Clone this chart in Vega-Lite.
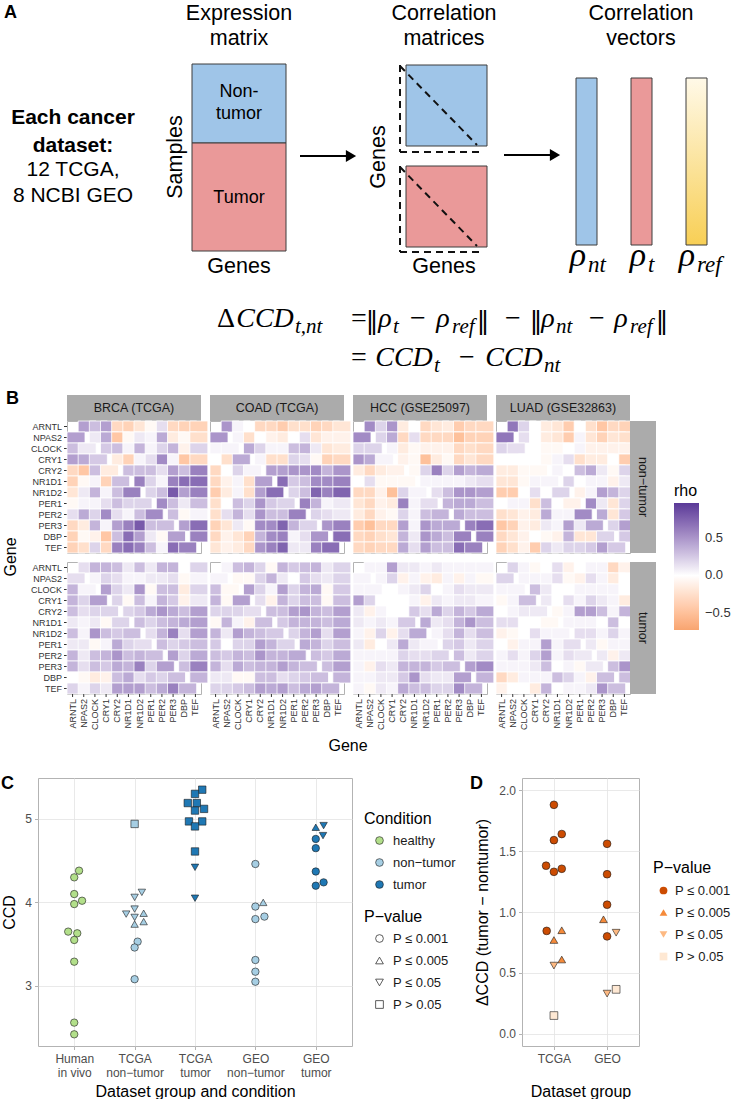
{
"$schema":"https://vega.github.io/schema/vega-lite/v6.json",
"background":"white",
"padding":0,
"columns":1,
"spacing":20,
"resolve":{"scale":{"fill":"independent","shape":"independent"}},
"datasets":{
"genes":[{"g":"ARNTL"},{"g":"NPAS2"},{"g":"CLOCK"},{"g":"CRY1"},{"g":"CRY2"},{"g":"NR1D1"},{"g":"NR1D2"},{"g":"PER1"},{"g":"PER2"},{"g":"PER3"},{"g":"DBP"},{"g":"TEF"}],
"hm":[
{"d":"BRCA","c":"nt","a":"ARNTL","NPAS2":0.45,"CLOCK":0.3,"CRY1":0.45,"CRY2":-0.3,"NR1D1":-0.35,"NR1D2":-0.2,"PER1":-0.05,"PER2":0.15,"PER3":-0.3,"DBP":-0.35,"TEF":-0.35},
{"d":"BRCA","c":"nt","a":"NPAS2","CLOCK":0.1,"CRY1":0.4,"CRY2":-0.45,"NR1D1":-0.05,"NR1D2":0.1,"PER1":0.05,"PER2":0.4,"PER3":-0.15,"DBP":-0.05,"TEF":-0.25},
{"d":"BRCA","c":"nt","a":"CLOCK","CRY1":0.25,"CRY2":0.3,"NR1D1":0.05,"NR1D2":0.35,"PER1":0.05,"PER2":0.2,"PER3":0.35,"DBP":-0.1,"TEF":0.2},
{"d":"BRCA","c":"nt","a":"CRY1","CRY2":-0.15,"NR1D1":-0.35,"NR1D2":0.05,"PER1":0.15,"PER2":0.55,"PER3":0.05,"DBP":-0.45,"TEF":-0.3},
{"d":"BRCA","c":"nt","a":"CRY2","NR1D1":0.3,"NR1D2":0.3,"PER1":0.3,"PER2":0.15,"PER3":0.45,"DBP":0.3,"TEF":0.6},
{"d":"BRCA","c":"nt","a":"NR1D1","NR1D2":0.6,"PER1":0.2,"PER2":0.05,"PER3":0.6,"DBP":0.7,"TEF":0.7},
{"d":"BRCA","c":"nt","a":"NR1D2","PER1":0.2,"PER2":0.3,"PER3":0.8,"DBP":0.45,"TEF":0.6},
{"d":"BRCA","c":"nt","a":"PER1","PER2":0.55,"PER3":0.3,"DBP":0.1,"TEF":0.3},
{"d":"BRCA","c":"nt","a":"PER2","PER3":0.3,"DBP":-0.05,"TEF":0.05},
{"d":"BRCA","c":"nt","a":"PER3","DBP":0.45,"TEF":0.7},
{"d":"BRCA","c":"nt","a":"DBP","TEF":0.6},
{"d":"BRCA","c":"t","a":"ARNTL","NPAS2":0.15,"CLOCK":0.35,"CRY1":0.35,"CRY2":0.3,"NR1D1":0.1,"NR1D2":0.3,"PER1":0.1,"PER2":0.35,"PER3":0.35,"DBP":0.0,"TEF":0.2},
{"d":"BRCA","c":"t","a":"NPAS2","CLOCK":0.05,"CRY1":0.2,"CRY2":0.15,"NR1D1":0.05,"NR1D2":0.05,"PER1":0.1,"PER2":0.1,"PER3":0.15,"DBP":-0.05,"TEF":0.05},
{"d":"BRCA","c":"t","a":"CLOCK","CRY1":0.45,"CRY2":0.2,"NR1D1":0.1,"NR1D2":0.5,"PER1":-0.05,"PER2":0.3,"PER3":0.3,"DBP":-0.15,"TEF":0.2},
{"d":"BRCA","c":"t","a":"CRY1","CRY2":0.2,"NR1D1":-0.05,"NR1D2":0.3,"PER1":0.05,"PER2":0.35,"PER3":0.25,"DBP":-0.1,"TEF":0.1},
{"d":"BRCA","c":"t","a":"CRY2","NR1D1":0.2,"NR1D2":0.25,"PER1":0.4,"PER2":0.5,"PER3":0.4,"DBP":0.3,"TEF":0.45},
{"d":"BRCA","c":"t","a":"NR1D1","NR1D2":0.3,"PER1":0.2,"PER2":0.3,"PER3":0.35,"DBP":0.4,"TEF":0.45},
{"d":"BRCA","c":"t","a":"NR1D2","PER1":0.15,"PER2":0.35,"PER3":0.6,"DBP":0.15,"TEF":0.45},
{"d":"BRCA","c":"t","a":"PER1","PER2":0.3,"PER3":0.2,"DBP":0.25,"TEF":0.3},
{"d":"BRCA","c":"t","a":"PER2","PER3":0.45,"DBP":0.2,"TEF":0.4},
{"d":"BRCA","c":"t","a":"PER3","DBP":0.3,"TEF":0.6},
{"d":"BRCA","c":"t","a":"DBP","TEF":0.35},
{"d":"COAD","c":"nt","a":"ARNTL","NPAS2":0.5,"CLOCK":0.05,"CRY1":0.0,"CRY2":-0.3,"NR1D1":-0.3,"NR1D2":-0.4,"PER1":-0.25,"PER2":-0.25,"PER3":-0.35,"DBP":-0.3,"TEF":-0.2},
{"d":"COAD","c":"nt","a":"NPAS2","CLOCK":0.05,"CRY1":-0.25,"CRY2":0.0,"NR1D1":-0.1,"NR1D2":-0.15,"PER1":0.0,"PER2":0.15,"PER3":-0.2,"DBP":-0.1,"TEF":-0.1},
{"d":"COAD","c":"nt","a":"CLOCK","CRY1":0.4,"CRY2":0.2,"NR1D1":0.05,"NR1D2":0.05,"PER1":0.3,"PER2":0.35,"PER3":0.1,"DBP":-0.2,"TEF":-0.15},
{"d":"COAD","c":"nt","a":"CRY1","CRY2":0.05,"NR1D1":-0.25,"NR1D2":-0.25,"PER1":0.2,"PER2":0.15,"PER3":-0.05,"DBP":-0.35,"TEF":-0.3},
{"d":"COAD","c":"nt","a":"CRY2","NR1D1":0.45,"NR1D2":0.45,"PER1":0.5,"PER2":0.5,"PER3":0.55,"DBP":0.35,"TEF":0.5},
{"d":"COAD","c":"nt","a":"NR1D1","NR1D2":0.7,"PER1":0.25,"PER2":0.3,"PER3":0.55,"DBP":0.55,"TEF":0.6},
{"d":"COAD","c":"nt","a":"NR1D2","PER1":0.2,"PER2":0.3,"PER3":0.75,"DBP":0.6,"TEF":0.75},
{"d":"COAD","c":"nt","a":"PER1","PER2":0.6,"PER3":0.35,"DBP":0.05,"TEF":0.1},
{"d":"COAD","c":"nt","a":"PER2","PER3":0.2,"DBP":0.15,"TEF":0.1},
{"d":"COAD","c":"nt","a":"PER3","DBP":0.5,"TEF":0.6},
{"d":"COAD","c":"nt","a":"DBP","TEF":0.7},
{"d":"COAD","c":"t","a":"ARNTL","NPAS2":0.05,"CLOCK":0.3,"CRY1":0.35,"CRY2":0.2,"NR1D1":-0.05,"NR1D2":0.35,"PER1":0.25,"PER2":0.3,"PER3":0.35,"DBP":0.1,"TEF":0.2},
{"d":"COAD","c":"t","a":"NPAS2","CLOCK":-0.05,"CRY1":-0.05,"CRY2":0.2,"NR1D1":0.35,"NR1D2":0.1,"PER1":0.0,"PER2":0.25,"PER3":0.15,"DBP":0.1,"TEF":0.2},
{"d":"COAD","c":"t","a":"CLOCK","CRY1":0.45,"CRY2":0.2,"NR1D1":0.05,"NR1D2":0.45,"PER1":0.2,"PER2":0.35,"PER3":0.4,"DBP":-0.05,"TEF":0.25},
{"d":"COAD","c":"t","a":"CRY1","CRY2":0.15,"NR1D1":-0.1,"NR1D2":0.35,"PER1":0.2,"PER2":0.3,"PER3":0.3,"DBP":-0.05,"TEF":0.3},
{"d":"COAD","c":"t","a":"CRY2","NR1D1":0.3,"NR1D2":0.3,"PER1":0.45,"PER2":0.5,"PER3":0.35,"DBP":0.3,"TEF":0.45},
{"d":"COAD","c":"t","a":"NR1D1","NR1D2":0.25,"PER1":0.35,"PER2":0.35,"PER3":0.35,"DBP":0.3,"TEF":0.4},
{"d":"COAD","c":"t","a":"NR1D2","PER1":0.2,"PER2":0.35,"PER3":0.45,"DBP":0.15,"TEF":0.45},
{"d":"COAD","c":"t","a":"PER1","PER2":0.4,"PER3":0.35,"DBP":0.2,"TEF":0.3},
{"d":"COAD","c":"t","a":"PER2","PER3":0.3,"DBP":0.25,"TEF":0.4},
{"d":"COAD","c":"t","a":"PER3","DBP":0.3,"TEF":0.45},
{"d":"COAD","c":"t","a":"DBP","TEF":0.35},
{"d":"HCC","c":"nt","a":"ARNTL","NPAS2":0.55,"CLOCK":0.2,"CRY1":0.5,"CRY2":-0.15,"NR1D1":0.0,"NR1D2":-0.3,"PER1":-0.2,"PER2":-0.15,"PER3":-0.4,"DBP":-0.3,"TEF":-0.3},
{"d":"HCC","c":"nt","a":"NPAS2","CLOCK":0.2,"CRY1":0.4,"CRY2":-0.3,"NR1D1":0.15,"NR1D2":-0.3,"PER1":-0.3,"PER2":-0.3,"PER3":-0.5,"DBP":-0.35,"TEF":-0.35},
{"d":"HCC","c":"nt","a":"CLOCK","CRY1":0.05,"CRY2":-0.15,"NR1D1":-0.05,"NR1D2":-0.1,"PER1":-0.1,"PER2":-0.1,"PER3":-0.3,"DBP":-0.25,"TEF":-0.3},
{"d":"HCC","c":"nt","a":"CRY1","CRY2":-0.1,"NR1D1":-0.05,"NR1D2":-0.5,"PER1":-0.15,"PER2":-0.05,"PER3":-0.3,"DBP":-0.2,"TEF":-0.3},
{"d":"HCC","c":"nt","a":"CRY2","NR1D1":-0.05,"NR1D2":0.2,"PER1":0.6,"PER2":0.2,"PER3":0.45,"DBP":0.35,"TEF":0.4},
{"d":"HCC","c":"nt","a":"NR1D1","NR1D2":0.05,"PER1":0.05,"PER2":0.05,"PER3":0.05,"DBP":0.1,"TEF":0.15},
{"d":"HCC","c":"nt","a":"NR1D2","PER1":0.15,"PER2":0.3,"PER3":0.5,"DBP":0.5,"TEF":0.45},
{"d":"HCC","c":"nt","a":"PER1","PER2":0.35,"PER3":0.4,"DBP":0.4,"TEF":0.3},
{"d":"HCC","c":"nt","a":"PER2","PER3":0.4,"DBP":0.3,"TEF":0.3},
{"d":"HCC","c":"nt","a":"PER3","DBP":0.6,"TEF":0.7},
{"d":"HCC","c":"nt","a":"DBP","TEF":0.6},
{"d":"HCC","c":"t","a":"ARNTL","NPAS2":0.05,"CLOCK":0.05,"CRY1":0.45,"CRY2":0.1,"NR1D1":0.1,"NR1D2":0.05,"PER1":0.1,"PER2":0.05,"PER3":0.05,"DBP":0.05,"TEF":0.05},
{"d":"HCC","c":"t","a":"NPAS2","CLOCK":0.05,"CRY1":0.2,"CRY2":-0.1,"NR1D1":0.05,"NR1D2":-0.1,"PER1":-0.15,"PER2":0.05,"PER3":-0.1,"DBP":0.05,"TEF":-0.05},
{"d":"HCC","c":"t","a":"CLOCK","CRY1":0.0,"CRY2":0.05,"NR1D1":0.1,"NR1D2":0.2,"PER1":0.0,"PER2":0.05,"PER3":0.15,"DBP":0.1,"TEF":0.1},
{"d":"HCC","c":"t","a":"CRY1","CRY2":0.0,"NR1D1":0.05,"NR1D2":-0.1,"PER1":0.1,"PER2":0.05,"PER3":0.1,"DBP":0.1,"TEF":0.05},
{"d":"HCC","c":"t","a":"CRY2","NR1D1":0.25,"NR1D2":0.15,"PER1":0.4,"PER2":0.2,"PER3":0.35,"DBP":0.25,"TEF":0.4},
{"d":"HCC","c":"t","a":"NR1D1","NR1D2":0.4,"PER1":0.1,"PER2":0.15,"PER3":0.35,"DBP":0.5,"TEF":0.3},
{"d":"HCC","c":"t","a":"NR1D2","PER1":0.05,"PER2":0.15,"PER3":0.35,"DBP":0.15,"TEF":0.3},
{"d":"HCC","c":"t","a":"PER1","PER2":0.2,"PER3":0.25,"DBP":0.1,"TEF":0.2},
{"d":"HCC","c":"t","a":"PER2","PER3":0.3,"DBP":0.1,"TEF":0.2},
{"d":"HCC","c":"t","a":"PER3","DBP":0.45,"TEF":0.55},
{"d":"HCC","c":"t","a":"DBP","TEF":0.35},
{"d":"LUAD","c":"nt","a":"ARNTL","NPAS2":0.65,"CLOCK":0.2,"CRY1":0.0,"CRY2":-0.15,"NR1D1":-0.2,"NR1D2":-0.4,"PER1":0.0,"PER2":-0.25,"PER3":-0.45,"DBP":-0.3,"TEF":-0.35},
{"d":"LUAD","c":"nt","a":"NPAS2","CLOCK":0.15,"CRY1":0.0,"CRY2":-0.15,"NR1D1":-0.2,"NR1D2":-0.4,"PER1":0.05,"PER2":-0.2,"PER3":-0.35,"DBP":-0.2,"TEF":-0.25},
{"d":"LUAD","c":"nt","a":"CLOCK","CRY1":0.0,"CRY2":-0.05,"NR1D1":-0.05,"NR1D2":0.0,"PER1":0.05,"PER2":-0.1,"PER3":-0.1,"DBP":-0.1,"TEF":-0.1},
{"d":"LUAD","c":"nt","a":"CRY1","CRY2":-0.05,"NR1D1":0.05,"NR1D2":0.15,"PER1":-0.25,"PER2":-0.15,"PER3":-0.15,"DBP":0.0,"TEF":-0.4},
{"d":"LUAD","c":"nt","a":"CRY2","NR1D1":0.05,"NR1D2":0.0,"PER1":0.3,"PER2":0.4,"PER3":0.1,"DBP":-0.05,"TEF":0.2},
{"d":"LUAD","c":"nt","a":"NR1D1","NR1D2":0.2,"PER1":0.0,"PER2":0.05,"PER3":0.05,"DBP":-0.1,"TEF":0.1},
{"d":"LUAD","c":"nt","a":"NR1D2","PER1":-0.1,"PER2":0.05,"PER3":0.45,"DBP":0.35,"TEF":0.2},
{"d":"LUAD","c":"nt","a":"PER1","PER2":0.55,"PER3":0.1,"DBP":-0.2,"TEF":0.2},
{"d":"LUAD","c":"nt","a":"PER2","PER3":0.4,"DBP":-0.2,"TEF":0.25},
{"d":"LUAD","c":"nt","a":"PER3","DBP":0.2,"TEF":0.45},
{"d":"LUAD","c":"nt","a":"DBP","TEF":0.25},
{"d":"LUAD","c":"t","a":"ARNTL","NPAS2":0.2,"CLOCK":0.05,"CRY1":-0.05,"CRY2":0.0,"NR1D1":0.15,"NR1D2":-0.1,"PER1":0.0,"PER2":0.05,"PER3":0.05,"DBP":-0.3,"TEF":-0.1},
{"d":"LUAD","c":"t","a":"NPAS2","CLOCK":0.05,"CRY1":0.05,"CRY2":0.05,"NR1D1":0.15,"NR1D2":-0.05,"PER1":-0.1,"PER2":0.15,"PER3":0.05,"DBP":-0.15,"TEF":0.0},
{"d":"LUAD","c":"t","a":"CLOCK","CRY1":0.3,"CRY2":0.1,"NR1D1":0.0,"NR1D2":0.0,"PER1":0.05,"PER2":0.05,"PER3":0.05,"DBP":0.05,"TEF":0.0},
{"d":"LUAD","c":"t","a":"CRY1","CRY2":0.1,"NR1D1":0.0,"NR1D2":0.15,"PER1":0.05,"PER2":0.2,"PER3":0.1,"DBP":0.05,"TEF":-0.15},
{"d":"LUAD","c":"t","a":"CRY2","NR1D1":-0.05,"NR1D2":0.05,"PER1":0.45,"PER2":0.45,"PER3":0.3,"DBP":0.05,"TEF":0.35},
{"d":"LUAD","c":"t","a":"NR1D1","NR1D2":0.05,"PER1":0.05,"PER2":0.05,"PER3":0.0,"DBP":0.3,"TEF":0.0},
{"d":"LUAD","c":"t","a":"NR1D2","PER1":0.15,"PER2":0.15,"PER3":0.05,"DBP":0.2,"TEF":0.05},
{"d":"LUAD","c":"t","a":"PER1","PER2":0.1,"PER3":-0.05,"DBP":0.05,"TEF":0.05},
{"d":"LUAD","c":"t","a":"PER2","PER3":0.1,"DBP":-0.1,"TEF":0.1},
{"d":"LUAD","c":"t","a":"PER3","DBP":0.3,"TEF":0.5},
{"d":"LUAD","c":"t","a":"DBP","TEF":0.3}
],
"ccd":[
{"g":"Human|in vivo","cond":"healthy","p":"P ≤ 0.001","v":4.38,"j":0.08},
{"g":"Human|in vivo","cond":"healthy","p":"P ≤ 0.001","v":4.30,"j":0},
{"g":"Human|in vivo","cond":"healthy","p":"P ≤ 0.001","v":4.10,"j":0},
{"g":"Human|in vivo","cond":"healthy","p":"P ≤ 0.001","v":3.98,"j":0},
{"g":"Human|in vivo","cond":"healthy","p":"P ≤ 0.001","v":4.02,"j":0.13},
{"g":"Human|in vivo","cond":"healthy","p":"P ≤ 0.001","v":3.65,"j":-0.1},
{"g":"Human|in vivo","cond":"healthy","p":"P ≤ 0.001","v":3.63,"j":0.05},
{"g":"Human|in vivo","cond":"healthy","p":"P ≤ 0.001","v":3.55,"j":0},
{"g":"Human|in vivo","cond":"healthy","p":"P ≤ 0.001","v":3.29,"j":0},
{"g":"Human|in vivo","cond":"healthy","p":"P ≤ 0.001","v":2.56,"j":0},
{"g":"Human|in vivo","cond":"healthy","p":"P ≤ 0.001","v":2.42,"j":0},
{"g":"TCGA|non−tumor","cond":"non−tumor","p":"P > 0.05","v":4.94,"j":0},
{"g":"TCGA|non−tumor","cond":"non−tumor","p":"P ≤ 0.05","v":4.12,"j":0.12},
{"g":"TCGA|non−tumor","cond":"non−tumor","p":"P ≤ 0.05","v":4.06,"j":0},
{"g":"TCGA|non−tumor","cond":"non−tumor","p":"P ≤ 0.05","v":3.92,"j":0},
{"g":"TCGA|non−tumor","cond":"non−tumor","p":"P ≤ 0.05","v":3.86,"j":-0.14},
{"g":"TCGA|non−tumor","cond":"non−tumor","p":"P ≤ 0.005","v":3.87,"j":0.15},
{"g":"TCGA|non−tumor","cond":"non−tumor","p":"P ≤ 0.05","v":3.82,"j":0},
{"g":"TCGA|non−tumor","cond":"non−tumor","p":"P ≤ 0.005","v":3.77,"j":0.15},
{"g":"TCGA|non−tumor","cond":"non−tumor","p":"P ≤ 0.005","v":3.74,"j":0},
{"g":"TCGA|non−tumor","cond":"non−tumor","p":"P ≤ 0.001","v":3.53,"j":0.05},
{"g":"TCGA|non−tumor","cond":"non−tumor","p":"P ≤ 0.001","v":3.46,"j":0},
{"g":"TCGA|non−tumor","cond":"non−tumor","p":"P ≤ 0.001","v":3.08,"j":0},
{"g":"TCGA|tumor","cond":"tumor","p":"P > 0.05","v":5.35,"j":0.12},
{"g":"TCGA|tumor","cond":"tumor","p":"P > 0.05","v":5.30,"j":0},
{"g":"TCGA|tumor","cond":"tumor","p":"P > 0.05","v":5.19,"j":-0.12},
{"g":"TCGA|tumor","cond":"tumor","p":"P > 0.05","v":5.19,"j":0.03},
{"g":"TCGA|tumor","cond":"tumor","p":"P > 0.05","v":5.12,"j":0.15},
{"g":"TCGA|tumor","cond":"tumor","p":"P > 0.05","v":5.10,"j":0},
{"g":"TCGA|tumor","cond":"tumor","p":"P > 0.05","v":4.97,"j":-0.1},
{"g":"TCGA|tumor","cond":"tumor","p":"P > 0.05","v":4.97,"j":0.12},
{"g":"TCGA|tumor","cond":"tumor","p":"P > 0.05","v":4.91,"j":0},
{"g":"TCGA|tumor","cond":"tumor","p":"P > 0.05","v":4.61,"j":0},
{"g":"TCGA|tumor","cond":"tumor","p":"P ≤ 0.05","v":4.42,"j":0},
{"g":"TCGA|tumor","cond":"tumor","p":"P ≤ 0.05","v":4.05,"j":0},
{"g":"GEO|non−tumor","cond":"non−tumor","p":"P ≤ 0.001","v":4.46,"j":0},
{"g":"GEO|non−tumor","cond":"non−tumor","p":"P ≤ 0.005","v":4.00,"j":0.13},
{"g":"GEO|non−tumor","cond":"non−tumor","p":"P ≤ 0.001","v":3.95,"j":0},
{"g":"GEO|non−tumor","cond":"non−tumor","p":"P ≤ 0.001","v":3.83,"j":0.15},
{"g":"GEO|non−tumor","cond":"non−tumor","p":"P ≤ 0.001","v":3.80,"j":0},
{"g":"GEO|non−tumor","cond":"non−tumor","p":"P ≤ 0.001","v":3.31,"j":0},
{"g":"GEO|non−tumor","cond":"non−tumor","p":"P ≤ 0.001","v":3.17,"j":0},
{"g":"GEO|non−tumor","cond":"non−tumor","p":"P ≤ 0.001","v":3.05,"j":0},
{"g":"GEO|tumor","cond":"tumor","p":"P ≤ 0.005","v":4.90,"j":0},
{"g":"GEO|tumor","cond":"tumor","p":"P ≤ 0.05","v":4.92,"j":0.13},
{"g":"GEO|tumor","cond":"tumor","p":"P ≤ 0.05","v":4.80,"j":0.12},
{"g":"GEO|tumor","cond":"tumor","p":"P ≤ 0.001","v":4.76,"j":0},
{"g":"GEO|tumor","cond":"tumor","p":"P ≤ 0.001","v":4.65,"j":0},
{"g":"GEO|tumor","cond":"tumor","p":"P ≤ 0.001","v":4.37,"j":0},
{"g":"GEO|tumor","cond":"tumor","p":"P ≤ 0.001","v":4.20,"j":0},
{"g":"GEO|tumor","cond":"tumor","p":"P ≤ 0.001","v":4.24,"j":0.13}
],
"dccd":[
{"g":"TCGA","p":"P ≤ 0.001","v":1.88,"j":0},
{"g":"TCGA","p":"P ≤ 0.001","v":1.64,"j":0.13},
{"g":"TCGA","p":"P ≤ 0.001","v":1.59,"j":0},
{"g":"TCGA","p":"P ≤ 0.001","v":1.38,"j":-0.13},
{"g":"TCGA","p":"P ≤ 0.001","v":1.355,"j":0.13},
{"g":"TCGA","p":"P ≤ 0.001","v":1.33,"j":0},
{"g":"TCGA","p":"P ≤ 0.001","v":0.845,"j":-0.12},
{"g":"TCGA","p":"P ≤ 0.005","v":0.85,"j":0.13},
{"g":"TCGA","p":"P ≤ 0.005","v":0.77,"j":0},
{"g":"TCGA","p":"P ≤ 0.005","v":0.61,"j":0.13},
{"g":"TCGA","p":"P ≤ 0.05","v":0.56,"j":0},
{"g":"TCGA","p":"P > 0.05","v":0.15,"j":0},
{"g":"GEO","p":"P ≤ 0.001","v":1.56,"j":0},
{"g":"GEO","p":"P ≤ 0.001","v":1.31,"j":0},
{"g":"GEO","p":"P ≤ 0.001","v":1.06,"j":0},
{"g":"GEO","p":"P ≤ 0.005","v":0.94,"j":-0.06},
{"g":"GEO","p":"P ≤ 0.05","v":0.83,"j":0.15},
{"g":"GEO","p":"P ≤ 0.001","v":0.80,"j":0},
{"g":"GEO","p":"P ≤ 0.05","v":0.33,"j":0},
{"g":"GEO","p":"P > 0.05","v":0.365,"j":0.15}
]
},
"concat":[
{"columns":1,"spacing":0,"resolve":{"scale":{"fill":"independent"}},"concat":[
{
"width":695,"height":390,"view":{"stroke":null},
"encoding":{
"x":{"field":"x","type":"quantitative","scale":{"domain":[37,732],"nice":false,"zero":false},"axis":null},
"y":{"field":"y","type":"quantitative","scale":{"domain":[0,390],"nice":false,"zero":false,"reverse":true},"axis":null}
},
"layer":[
{"data":{"values":[{"x":191,"x2":285,"y":64,"y2":143,"k":"nt"},{"x":191,"x2":285,"y":143,"y2":251,"k":"t"},{"x":405,"x2":486,"y":65,"y2":146,"k":"nt"},{"x":405,"x2":486,"y":166,"y2":247,"k":"t"},{"x":575,"x2":596,"y":78,"y2":245,"k":"nt"},{"x":630,"x2":651,"y":78,"y2":245,"k":"t"}]},
"mark":{"type":"rect","stroke":"#3C3C3C","strokeWidth":1},
"encoding":{"x2":{"field":"x2"},"y2":{"field":"y2"},"fill":{"field":"k","type":"nominal","scale":{"domain":["nt","t"],"range":["#9FC5E8","#EA9999"]},"legend":null}}},
{"data":{"values":[{"x":685,"x2":706,"y":78,"y2":245}]},
"mark":{"type":"rect","stroke":"#3C3C3C","strokeWidth":1,"fill":{"gradient":"linear","x1":0,"y1":0,"x2":0,"y2":1,"stops":[{"offset":0,"color":"#FFF9E8"},{"offset":1,"color":"#F8CF55"}]}},
"encoding":{"x2":{"field":"x2"},"y2":{"field":"y2"}}},
{"data":{"values":[{"x":399,"y":65,"x2":399,"y2":152},{"x":399,"y":152,"x2":483,"y2":152},{"x":399,"y":66,"x2":476,"y2":145},{"x":399,"y":166,"x2":399,"y2":252},{"x":399,"y":252,"x2":483,"y2":252},{"x":399,"y":167,"x2":476,"y2":246}]},
"mark":{"type":"rule","strokeDash":[7,5],"strokeWidth":2,"color":"#111111"},
"encoding":{"x2":{"field":"x2"},"y2":{"field":"y2"}}},
{"data":{"values":[{"x":299,"y":156,"x2":347,"y2":156},{"x":503,"y":155,"x2":551,"y2":155}]},
"mark":{"type":"rule","strokeWidth":2,"color":"#000000"},
"encoding":{"x2":{"field":"x2"},"y2":{"field":"y2"}}},
{"data":{"values":[{"x":350,"y":156},{"x":554,"y":155}]},
"mark":{"type":"point","shape":"triangle-right","filled":true,"color":"#000000","size":140,"opacity":1}},
{"data":{"values":[{"t":"Expression","x":238,"y":14},{"t":"matrix","x":238,"y":39},{"t":"Correlation","x":443,"y":14},{"t":"matrices","x":443,"y":39},{"t":"Correlation","x":640,"y":14},{"t":"vectors","x":640,"y":39},{"t":"Genes","x":238,"y":267},{"t":"Genes","x":443,"y":267}]},
"mark":{"type":"text","fontSize":21.5,"baseline":"middle","align":"center","color":"#000000"},
"encoding":{"text":{"field":"t"}}},
{"data":{"values":[{"t":"Non-","x":238,"y":92},{"t":"tumor","x":238,"y":114},{"t":"Tumor","x":238,"y":198}]},
"mark":{"type":"text","fontSize":18,"baseline":"middle","align":"center","color":"#000000"},
"encoding":{"text":{"field":"t"}}},
{"data":{"values":[{"t":"Samples","x":175,"y":157},{"t":"Genes","x":378,"y":157}]},
"mark":{"type":"text","fontSize":21.5,"baseline":"middle","align":"center","angle":270,"color":"#000000"},
"encoding":{"text":{"field":"t"}}},
{"data":{"values":[{"t":"Each cancer","x":72,"y":118},{"t":"dataset:","x":72,"y":146}]},
"mark":{"type":"text","fontSize":21,"fontWeight":"bold","baseline":"middle","align":"center","color":"#000000"},
"encoding":{"text":{"field":"t"}}},
{"data":{"values":[{"t":"12 TCGA,","x":72,"y":170},{"t":"8 NCBI GEO","x":72,"y":196}]},
"mark":{"type":"text","fontSize":21,"baseline":"middle","align":"center","color":"#000000"},
"encoding":{"text":{"field":"t"}}},
{"data":{"values":[{"t":"A","x":3,"y":13}]},
"mark":{"type":"text","fontSize":18,"fontWeight":"bold","baseline":"middle","align":"left","color":"#000000"},
"encoding":{"text":{"field":"t"}}},
{"data":{"values":[{"t":"ρ","x":577,"y":266},{"t":"ρ","x":637,"y":266},{"t":"ρ","x":686,"y":266}]},
"mark":{"type":"text","font":"Liberation Serif","fontStyle":"italic","fontSize":34,"baseline":"alphabetic","align":"center","color":"#000000"},
"encoding":{"text":{"field":"t"}}},
{"data":{"values":[{"t":"nt","x":587,"y":272},{"t":"t","x":647,"y":272},{"t":"ref","x":696,"y":272}]},
"mark":{"type":"text","font":"Liberation Serif","fontStyle":"italic","fontSize":23,"baseline":"alphabetic","align":"left","color":"#000000"},
"encoding":{"text":{"field":"t"}}},
{"data":{"values":[{"t":"CCD","x":264,"y":327},{"t":"ρ","x":384,"y":327},{"t":"ρ","x":442,"y":327},{"t":"ρ","x":547,"y":327},{"t":"ρ","x":620,"y":327},{"t":"CCD","x":403,"y":366},{"t":"CCD","x":513,"y":366}]},
"mark":{"type":"text","font":"Liberation Serif","fontStyle":"italic","fontSize":28,"baseline":"alphabetic","align":"center","color":"#000000"},
"encoding":{"text":{"field":"t"}}},
{"data":{"values":[{"t":"t,nt","x":294,"y":333},{"t":"t","x":392,"y":333},{"t":"ref","x":451,"y":333},{"t":"nt","x":555,"y":333},{"t":"ref","x":629,"y":333},{"t":"t","x":433,"y":372},{"t":"nt","x":543,"y":372}]},
"mark":{"type":"text","font":"Liberation Serif","fontStyle":"italic","fontSize":21,"baseline":"alphabetic","align":"left","color":"#000000"},
"encoding":{"text":{"field":"t"}}},
{"data":{"values":[{"t":"Δ","x":225,"y":327},{"t":"=","x":358,"y":327},{"t":"−","x":417,"y":327},{"t":"−","x":512,"y":327},{"t":"−","x":596,"y":327},{"t":"=","x":358,"y":366},{"t":"−","x":466,"y":366}]},
"mark":{"type":"text","font":"Liberation Serif","fontSize":28,"baseline":"alphabetic","align":"center","color":"#000000"},
"encoding":{"text":{"field":"t"}}},
{"data":{"values":[{"t":"‖","x":371,"y":329},{"t":"‖","x":482,"y":329},{"t":"‖","x":535,"y":329},{"t":"‖","x":661,"y":329}]},
"mark":{"type":"text","font":"DejaVu Sans","fontSize":25,"baseline":"alphabetic","align":"center","color":"#000000"},
"encoding":{"text":{"field":"t"}}}
]
},
{"concat":[
{"width":20,"height":17,"view":{"stroke":null},"title":{"text":"B","anchor":"start","frame":"group","fontSize":18,"fontWeight":"bold","offset":-13,"dx":-32,"color":"#000000"},"data":{"values":[{"z":0}]},"mark":{"type":"point","opacity":0},"encoding":{}},
{"width":134,"height":17,"view":{"stroke":null},"data":{"values":[{"s":"BRCA (TCGA)"}]},"layer":[
{"mark":{"type":"rect","fill":"#ABABAB"},"encoding":{"x":{"datum":0,"type":"quantitative","scale":{"domain":[0,1],"nice":false,"zero":false},"axis":null},"x2":{"datum":1},"y":{"datum":1,"type":"quantitative","scale":{"domain":[0,1],"nice":false,"zero":false},"axis":null},"y2":{"datum":-0.5294}}},
{"mark":{"type":"text","fontSize":12.5,"color":"#1A1A1A"},"encoding":{"x":{"datum":0.5,"type":"quantitative","scale":{"domain":[0,1],"nice":false,"zero":false},"axis":null},"y":{"datum":0.235,"type":"quantitative","scale":{"domain":[0,1],"nice":false,"zero":false},"axis":null},"text":{"field":"s"}}}]},
{"width":134,"height":17,"view":{"stroke":null},"data":{"values":[{"s":"COAD (TCGA)"}]},"layer":[
{"mark":{"type":"rect","fill":"#ABABAB"},"encoding":{"x":{"datum":0,"type":"quantitative","scale":{"domain":[0,1],"nice":false,"zero":false},"axis":null},"x2":{"datum":1},"y":{"datum":1,"type":"quantitative","scale":{"domain":[0,1],"nice":false,"zero":false},"axis":null},"y2":{"datum":-0.5294}}},
{"mark":{"type":"text","fontSize":12.5,"color":"#1A1A1A"},"encoding":{"x":{"datum":0.5,"type":"quantitative","scale":{"domain":[0,1],"nice":false,"zero":false},"axis":null},"y":{"datum":0.235,"type":"quantitative","scale":{"domain":[0,1],"nice":false,"zero":false},"axis":null},"text":{"field":"s"}}}]},
{"width":134,"height":17,"view":{"stroke":null},"data":{"values":[{"s":"HCC (GSE25097)"}]},"layer":[
{"mark":{"type":"rect","fill":"#ABABAB"},"encoding":{"x":{"datum":0,"type":"quantitative","scale":{"domain":[0,1],"nice":false,"zero":false},"axis":null},"x2":{"datum":1},"y":{"datum":1,"type":"quantitative","scale":{"domain":[0,1],"nice":false,"zero":false},"axis":null},"y2":{"datum":-0.5294}}},
{"mark":{"type":"text","fontSize":12.5,"color":"#1A1A1A"},"encoding":{"x":{"datum":0.5,"type":"quantitative","scale":{"domain":[0,1],"nice":false,"zero":false},"axis":null},"y":{"datum":0.235,"type":"quantitative","scale":{"domain":[0,1],"nice":false,"zero":false},"axis":null},"text":{"field":"s"}}}]},
{"width":134,"height":17,"view":{"stroke":null},"data":{"values":[{"s":"LUAD (GSE32863)"}]},"layer":[
{"mark":{"type":"rect","fill":"#ABABAB"},"encoding":{"x":{"datum":0,"type":"quantitative","scale":{"domain":[0,1],"nice":false,"zero":false},"axis":null},"x2":{"datum":1},"y":{"datum":1,"type":"quantitative","scale":{"domain":[0,1],"nice":false,"zero":false},"axis":null},"y2":{"datum":-0.5294}}},
{"mark":{"type":"text","fontSize":12.5,"color":"#1A1A1A"},"encoding":{"x":{"datum":0.5,"type":"quantitative","scale":{"domain":[0,1],"nice":false,"zero":false},"axis":null},"y":{"datum":0.235,"type":"quantitative","scale":{"domain":[0,1],"nice":false,"zero":false},"axis":null},"text":{"field":"s"}}}]},
{"width":17,"height":17,"view":{"stroke":null},"data":{"values":[{"z":0}]},"mark":{"type":"point","opacity":0},"encoding":{}},
{"width":20,"height":132,"view":{"stroke":null},"resolve":{"scale":{"x":"independent","y":"independent"}},"layer":[
{"data":{"name":"genes"},"encoding":{"y":{"field":"g","type":"nominal","scale":{"domain":["ARNTL","NPAS2","CLOCK","CRY1","CRY2","NR1D1","NR1D2","PER1","PER2","PER3","DBP","TEF"],"padding":0},"axis":null}},"layer":[
{"mark":{"type":"text","align":"right","baseline":"middle","fontSize":9,"color":"#333333"},"encoding":{"x":{"datum":24,"type":"quantitative","scale":{"domain":[0,20],"range":[0,20],"nice":false,"zero":false},"axis":null},"text":{"field":"g"}}},
{"mark":{"type":"rule","color":"#333333","strokeWidth":1},"encoding":{"x":{"datum":26,"type":"quantitative","scale":{"domain":[0,20],"range":[0,20],"nice":false,"zero":false},"axis":null},"x2":{"datum":29}}}]},
{"data":{"values":[{"t":"Gene"}]},"mark":{"type":"text","angle":270,"fontSize":16,"baseline":"middle","color":"#000000"},"encoding":{"x":{"datum":-27.5,"type":"quantitative","scale":{"domain":[0,20],"range":[0,20],"nice":false,"zero":false},"axis":null},"y":{"datum":136,"type":"quantitative","scale":{"domain":[0,132],"range":[0,132],"nice":false,"zero":false},"axis":null},"text":{"field":"t"}}}
]},
{"width":134,"height":132,"data":{"name":"hm"},"transform":[{"filter":"datum.d=='BRCA'&&datum.c=='nt'"},{"fold":["ARNTL","NPAS2","CLOCK","CRY1","CRY2","NR1D1","NR1D2","PER1","PER2","PER3","DBP","TEF"],"as":["b","v"]},{"filter":"isValid(datum.v)"}],
"layer":[
{"mark":{"type":"rect","stroke":"white","strokeWidth":0.8},"encoding":{
"x":{"field":"b","type":"nominal","scale":{"domain":["ARNTL","NPAS2","CLOCK","CRY1","CRY2","NR1D1","NR1D2","PER1","PER2","PER3","DBP","TEF"],"padding":0},"axis":{"labels":false,"ticks":false,"domain":false,"grid":true,"gridColor":"#D9D9D9","gridWidth":0.6,"title":null}},
"y":{"field":"a","type":"nominal","scale":{"domain":["ARNTL","NPAS2","CLOCK","CRY1","CRY2","NR1D1","NR1D2","PER1","PER2","PER3","DBP","TEF"],"padding":0},"axis":{"labels":false,"ticks":false,"domain":false,"grid":true,"gridColor":"#D9D9D9","gridWidth":0.6,"title":null}},
"fill":{"field":"v","type":"quantitative","scale":{"domain":[-0.73,0,0.97],"range":["#F8A46F","#FFFFFF","#5A3A98"],"interpolate":"lab"},"legend":null}}},
{"mark":{"type":"rect","stroke":"white","strokeWidth":0.8},"encoding":{
"x":{"field":"a","type":"nominal","axis":null},
"y":{"field":"b","type":"nominal","axis":null},
"fill":{"field":"v","type":"quantitative","legend":null}}}
]},
{"width":134,"height":132,"data":{"name":"hm"},"transform":[{"filter":"datum.d=='COAD'&&datum.c=='nt'"},{"fold":["ARNTL","NPAS2","CLOCK","CRY1","CRY2","NR1D1","NR1D2","PER1","PER2","PER3","DBP","TEF"],"as":["b","v"]},{"filter":"isValid(datum.v)"}],
"layer":[
{"mark":{"type":"rect","stroke":"white","strokeWidth":0.8},"encoding":{
"x":{"field":"b","type":"nominal","scale":{"domain":["ARNTL","NPAS2","CLOCK","CRY1","CRY2","NR1D1","NR1D2","PER1","PER2","PER3","DBP","TEF"],"padding":0},"axis":{"labels":false,"ticks":false,"domain":false,"grid":true,"gridColor":"#D9D9D9","gridWidth":0.6,"title":null}},
"y":{"field":"a","type":"nominal","scale":{"domain":["ARNTL","NPAS2","CLOCK","CRY1","CRY2","NR1D1","NR1D2","PER1","PER2","PER3","DBP","TEF"],"padding":0},"axis":{"labels":false,"ticks":false,"domain":false,"grid":true,"gridColor":"#D9D9D9","gridWidth":0.6,"title":null}},
"fill":{"field":"v","type":"quantitative","scale":{"domain":[-0.73,0,0.97],"range":["#F8A46F","#FFFFFF","#5A3A98"],"interpolate":"lab"},"legend":null}}},
{"mark":{"type":"rect","stroke":"white","strokeWidth":0.8},"encoding":{
"x":{"field":"a","type":"nominal","axis":null},
"y":{"field":"b","type":"nominal","axis":null},
"fill":{"field":"v","type":"quantitative","legend":null}}}
]},
{"width":134,"height":132,"data":{"name":"hm"},"transform":[{"filter":"datum.d=='HCC'&&datum.c=='nt'"},{"fold":["ARNTL","NPAS2","CLOCK","CRY1","CRY2","NR1D1","NR1D2","PER1","PER2","PER3","DBP","TEF"],"as":["b","v"]},{"filter":"isValid(datum.v)"}],
"layer":[
{"mark":{"type":"rect","stroke":"white","strokeWidth":0.8},"encoding":{
"x":{"field":"b","type":"nominal","scale":{"domain":["ARNTL","NPAS2","CLOCK","CRY1","CRY2","NR1D1","NR1D2","PER1","PER2","PER3","DBP","TEF"],"padding":0},"axis":{"labels":false,"ticks":false,"domain":false,"grid":true,"gridColor":"#D9D9D9","gridWidth":0.6,"title":null}},
"y":{"field":"a","type":"nominal","scale":{"domain":["ARNTL","NPAS2","CLOCK","CRY1","CRY2","NR1D1","NR1D2","PER1","PER2","PER3","DBP","TEF"],"padding":0},"axis":{"labels":false,"ticks":false,"domain":false,"grid":true,"gridColor":"#D9D9D9","gridWidth":0.6,"title":null}},
"fill":{"field":"v","type":"quantitative","scale":{"domain":[-0.73,0,0.97],"range":["#F8A46F","#FFFFFF","#5A3A98"],"interpolate":"lab"},"legend":null}}},
{"mark":{"type":"rect","stroke":"white","strokeWidth":0.8},"encoding":{
"x":{"field":"a","type":"nominal","axis":null},
"y":{"field":"b","type":"nominal","axis":null},
"fill":{"field":"v","type":"quantitative","legend":null}}}
]},
{"width":134,"height":132,"data":{"name":"hm"},"transform":[{"filter":"datum.d=='LUAD'&&datum.c=='nt'"},{"fold":["ARNTL","NPAS2","CLOCK","CRY1","CRY2","NR1D1","NR1D2","PER1","PER2","PER3","DBP","TEF"],"as":["b","v"]},{"filter":"isValid(datum.v)"}],
"layer":[
{"mark":{"type":"rect","stroke":"white","strokeWidth":0.8},"encoding":{
"x":{"field":"b","type":"nominal","scale":{"domain":["ARNTL","NPAS2","CLOCK","CRY1","CRY2","NR1D1","NR1D2","PER1","PER2","PER3","DBP","TEF"],"padding":0},"axis":{"labels":false,"ticks":false,"domain":false,"grid":true,"gridColor":"#D9D9D9","gridWidth":0.6,"title":null}},
"y":{"field":"a","type":"nominal","scale":{"domain":["ARNTL","NPAS2","CLOCK","CRY1","CRY2","NR1D1","NR1D2","PER1","PER2","PER3","DBP","TEF"],"padding":0},"axis":{"labels":false,"ticks":false,"domain":false,"grid":true,"gridColor":"#D9D9D9","gridWidth":0.6,"title":null}},
"fill":{"field":"v","type":"quantitative","scale":{"domain":[-0.73,0,0.97],"range":["#F8A46F","#FFFFFF","#5A3A98"],"interpolate":"lab"},"legend":{"orient":"none","legendX":178,"legendY":62,"title":"rho","values":[-0.5,0,0.5],"format":".1f","gradientLength":127,"gradientThickness":25,"titleFontSize":16,"labelFontSize":13,"titlePadding":4,"labelColor":"#333333","direction":"vertical","gradientStrokeWidth":0,"labelOffset":6}}}},
{"mark":{"type":"rect","stroke":"white","strokeWidth":0.8},"encoding":{
"x":{"field":"a","type":"nominal","axis":null},
"y":{"field":"b","type":"nominal","axis":null},
"fill":{"field":"v","type":"quantitative"}}}
]},
{"width":17,"height":132,"view":{"stroke":null},"data":{"values":[{"s":"non−tumor"}]},"layer":[
{"mark":{"type":"rect","fill":"#ABABAB"},"encoding":{"x":{"datum":-0.5294,"type":"quantitative","scale":{"domain":[0,1],"nice":false,"zero":false},"axis":null},"x2":{"datum":1},"y":{"datum":0,"type":"quantitative","scale":{"domain":[0,1],"nice":false,"zero":false},"axis":null},"y2":{"datum":1}}},
{"mark":{"type":"text","fontSize":12.5,"angle":90,"color":"#1A1A1A"},"encoding":{"x":{"datum":0.235,"type":"quantitative","scale":{"domain":[0,1],"nice":false,"zero":false},"axis":null},"y":{"datum":0.5,"type":"quantitative","scale":{"domain":[0,1],"nice":false,"zero":false},"axis":null},"text":{"field":"s"}}}]},
{"width":20,"height":132,"view":{"stroke":null},"data":{"name":"genes"},"encoding":{"y":{"field":"g","type":"nominal","scale":{"domain":["ARNTL","NPAS2","CLOCK","CRY1","CRY2","NR1D1","NR1D2","PER1","PER2","PER3","DBP","TEF"],"padding":0},"axis":null}},"layer":[
{"mark":{"type":"text","align":"right","baseline":"middle","fontSize":9,"color":"#333333"},"encoding":{"x":{"datum":24,"type":"quantitative","scale":{"domain":[0,20],"range":[0,20],"nice":false,"zero":false},"axis":null},"text":{"field":"g"}}},
{"mark":{"type":"rule","color":"#333333","strokeWidth":1},"encoding":{"x":{"datum":26,"type":"quantitative","scale":{"domain":[0,20],"range":[0,20],"nice":false,"zero":false},"axis":null},"x2":{"datum":29}}}]},
{"width":134,"height":132,"data":{"name":"hm"},"transform":[{"filter":"datum.d=='BRCA'&&datum.c=='t'"},{"fold":["ARNTL","NPAS2","CLOCK","CRY1","CRY2","NR1D1","NR1D2","PER1","PER2","PER3","DBP","TEF"],"as":["b","v"]},{"filter":"isValid(datum.v)"}],
"layer":[
{"mark":{"type":"rect","stroke":"white","strokeWidth":0.8},"encoding":{
"x":{"field":"b","type":"nominal","scale":{"domain":["ARNTL","NPAS2","CLOCK","CRY1","CRY2","NR1D1","NR1D2","PER1","PER2","PER3","DBP","TEF"],"padding":0},"axis":{"labels":false,"ticks":false,"domain":false,"grid":true,"gridColor":"#D9D9D9","gridWidth":0.6,"title":null}},
"y":{"field":"a","type":"nominal","scale":{"domain":["ARNTL","NPAS2","CLOCK","CRY1","CRY2","NR1D1","NR1D2","PER1","PER2","PER3","DBP","TEF"],"padding":0},"axis":{"labels":false,"ticks":false,"domain":false,"grid":true,"gridColor":"#D9D9D9","gridWidth":0.6,"title":null}},
"fill":{"field":"v","type":"quantitative","scale":{"domain":[-0.73,0,0.97],"range":["#F8A46F","#FFFFFF","#5A3A98"],"interpolate":"lab"},"legend":null}}},
{"mark":{"type":"rect","stroke":"white","strokeWidth":0.8},"encoding":{
"x":{"field":"a","type":"nominal","axis":null},
"y":{"field":"b","type":"nominal","axis":null},
"fill":{"field":"v","type":"quantitative","legend":null}}}
]},
{"width":134,"height":132,"data":{"name":"hm"},"transform":[{"filter":"datum.d=='COAD'&&datum.c=='t'"},{"fold":["ARNTL","NPAS2","CLOCK","CRY1","CRY2","NR1D1","NR1D2","PER1","PER2","PER3","DBP","TEF"],"as":["b","v"]},{"filter":"isValid(datum.v)"}],
"layer":[
{"mark":{"type":"rect","stroke":"white","strokeWidth":0.8},"encoding":{
"x":{"field":"b","type":"nominal","scale":{"domain":["ARNTL","NPAS2","CLOCK","CRY1","CRY2","NR1D1","NR1D2","PER1","PER2","PER3","DBP","TEF"],"padding":0},"axis":{"labels":false,"ticks":false,"domain":false,"grid":true,"gridColor":"#D9D9D9","gridWidth":0.6,"title":null}},
"y":{"field":"a","type":"nominal","scale":{"domain":["ARNTL","NPAS2","CLOCK","CRY1","CRY2","NR1D1","NR1D2","PER1","PER2","PER3","DBP","TEF"],"padding":0},"axis":{"labels":false,"ticks":false,"domain":false,"grid":true,"gridColor":"#D9D9D9","gridWidth":0.6,"title":null}},
"fill":{"field":"v","type":"quantitative","scale":{"domain":[-0.73,0,0.97],"range":["#F8A46F","#FFFFFF","#5A3A98"],"interpolate":"lab"},"legend":null}}},
{"mark":{"type":"rect","stroke":"white","strokeWidth":0.8},"encoding":{
"x":{"field":"a","type":"nominal","axis":null},
"y":{"field":"b","type":"nominal","axis":null},
"fill":{"field":"v","type":"quantitative","legend":null}}}
]},
{"width":134,"height":132,"data":{"name":"hm"},"transform":[{"filter":"datum.d=='HCC'&&datum.c=='t'"},{"fold":["ARNTL","NPAS2","CLOCK","CRY1","CRY2","NR1D1","NR1D2","PER1","PER2","PER3","DBP","TEF"],"as":["b","v"]},{"filter":"isValid(datum.v)"}],
"layer":[
{"mark":{"type":"rect","stroke":"white","strokeWidth":0.8},"encoding":{
"x":{"field":"b","type":"nominal","scale":{"domain":["ARNTL","NPAS2","CLOCK","CRY1","CRY2","NR1D1","NR1D2","PER1","PER2","PER3","DBP","TEF"],"padding":0},"axis":{"labels":false,"ticks":false,"domain":false,"grid":true,"gridColor":"#D9D9D9","gridWidth":0.6,"title":null}},
"y":{"field":"a","type":"nominal","scale":{"domain":["ARNTL","NPAS2","CLOCK","CRY1","CRY2","NR1D1","NR1D2","PER1","PER2","PER3","DBP","TEF"],"padding":0},"axis":{"labels":false,"ticks":false,"domain":false,"grid":true,"gridColor":"#D9D9D9","gridWidth":0.6,"title":null}},
"fill":{"field":"v","type":"quantitative","scale":{"domain":[-0.73,0,0.97],"range":["#F8A46F","#FFFFFF","#5A3A98"],"interpolate":"lab"},"legend":null}}},
{"mark":{"type":"rect","stroke":"white","strokeWidth":0.8},"encoding":{
"x":{"field":"a","type":"nominal","axis":null},
"y":{"field":"b","type":"nominal","axis":null},
"fill":{"field":"v","type":"quantitative","legend":null}}}
]},
{"width":134,"height":132,"data":{"name":"hm"},"transform":[{"filter":"datum.d=='LUAD'&&datum.c=='t'"},{"fold":["ARNTL","NPAS2","CLOCK","CRY1","CRY2","NR1D1","NR1D2","PER1","PER2","PER3","DBP","TEF"],"as":["b","v"]},{"filter":"isValid(datum.v)"}],
"layer":[
{"mark":{"type":"rect","stroke":"white","strokeWidth":0.8},"encoding":{
"x":{"field":"b","type":"nominal","scale":{"domain":["ARNTL","NPAS2","CLOCK","CRY1","CRY2","NR1D1","NR1D2","PER1","PER2","PER3","DBP","TEF"],"padding":0},"axis":{"labels":false,"ticks":false,"domain":false,"grid":true,"gridColor":"#D9D9D9","gridWidth":0.6,"title":null}},
"y":{"field":"a","type":"nominal","scale":{"domain":["ARNTL","NPAS2","CLOCK","CRY1","CRY2","NR1D1","NR1D2","PER1","PER2","PER3","DBP","TEF"],"padding":0},"axis":{"labels":false,"ticks":false,"domain":false,"grid":true,"gridColor":"#D9D9D9","gridWidth":0.6,"title":null}},
"fill":{"field":"v","type":"quantitative","scale":{"domain":[-0.73,0,0.97],"range":["#F8A46F","#FFFFFF","#5A3A98"],"interpolate":"lab"},"legend":null}}},
{"mark":{"type":"rect","stroke":"white","strokeWidth":0.8},"encoding":{
"x":{"field":"a","type":"nominal","axis":null},
"y":{"field":"b","type":"nominal","axis":null},
"fill":{"field":"v","type":"quantitative","legend":null}}}
]},
{"width":17,"height":132,"view":{"stroke":null},"data":{"values":[{"s":"tumor"}]},"layer":[
{"mark":{"type":"rect","fill":"#ABABAB"},"encoding":{"x":{"datum":-0.5294,"type":"quantitative","scale":{"domain":[0,1],"nice":false,"zero":false},"axis":null},"x2":{"datum":1},"y":{"datum":0,"type":"quantitative","scale":{"domain":[0,1],"nice":false,"zero":false},"axis":null},"y2":{"datum":1}}},
{"mark":{"type":"text","fontSize":12.5,"angle":90,"color":"#1A1A1A"},"encoding":{"x":{"datum":0.235,"type":"quantitative","scale":{"domain":[0,1],"nice":false,"zero":false},"axis":null},"y":{"datum":0.5,"type":"quantitative","scale":{"domain":[0,1],"nice":false,"zero":false},"axis":null},"text":{"field":"s"}}}]},
{"width":20,"height":1,"view":{"stroke":null},"data":{"values":[{"z":0}]},"mark":{"type":"point","opacity":0},"encoding":{}},
{"width":134,"height":1,"view":{"stroke":null},"resolve":{"scale":{"x":"independent","y":"independent"}},"layer":[
{"data":{"name":"genes"},"encoding":{"x":{"field":"g","type":"nominal","scale":{"domain":["ARNTL","NPAS2","CLOCK","CRY1","CRY2","NR1D1","NR1D2","PER1","PER2","PER3","DBP","TEF"],"padding":0},"axis":null}},"layer":[
{"mark":{"type":"text","angle":270,"align":"right","baseline":"middle","fontSize":9,"color":"#333333"},"encoding":{"y":{"datum":-4,"type":"quantitative","scale":{"domain":[0,1],"range":[0,1],"nice":false,"zero":false},"axis":null},"text":{"field":"g"}}},
{"mark":{"type":"rule","color":"#333333","strokeWidth":1},"encoding":{"y":{"datum":-9,"type":"quantitative","scale":{"domain":[0,1],"range":[0,1],"nice":false,"zero":false},"axis":null},"y2":{"datum":-6}}}]},
{"data":{"values":[{"t":"Gene"}]},"mark":{"type":"text","fontSize":16,"baseline":"middle","color":"#000000"},"encoding":{"x":{"datum":281,"type":"quantitative","scale":{"domain":[0,134],"range":[0,134],"nice":false,"zero":false},"axis":null},"y":{"datum":43,"type":"quantitative","scale":{"domain":[0,1],"range":[0,1],"nice":false,"zero":false},"axis":null},"text":{"field":"t"}}}
]},
{"width":134,"height":1,"view":{"stroke":null},"data":{"name":"genes"},"encoding":{"x":{"field":"g","type":"nominal","scale":{"domain":["ARNTL","NPAS2","CLOCK","CRY1","CRY2","NR1D1","NR1D2","PER1","PER2","PER3","DBP","TEF"],"padding":0},"axis":null}},"layer":[
{"mark":{"type":"text","angle":270,"align":"right","baseline":"middle","fontSize":9,"color":"#333333"},"encoding":{"y":{"datum":-4,"type":"quantitative","scale":{"domain":[0,1],"range":[0,1],"nice":false,"zero":false},"axis":null},"text":{"field":"g"}}},
{"mark":{"type":"rule","color":"#333333","strokeWidth":1},"encoding":{"y":{"datum":-9,"type":"quantitative","scale":{"domain":[0,1],"range":[0,1],"nice":false,"zero":false},"axis":null},"y2":{"datum":-6}}}]},
{"width":134,"height":1,"view":{"stroke":null},"data":{"name":"genes"},"encoding":{"x":{"field":"g","type":"nominal","scale":{"domain":["ARNTL","NPAS2","CLOCK","CRY1","CRY2","NR1D1","NR1D2","PER1","PER2","PER3","DBP","TEF"],"padding":0},"axis":null}},"layer":[
{"mark":{"type":"text","angle":270,"align":"right","baseline":"middle","fontSize":9,"color":"#333333"},"encoding":{"y":{"datum":-4,"type":"quantitative","scale":{"domain":[0,1],"range":[0,1],"nice":false,"zero":false},"axis":null},"text":{"field":"g"}}},
{"mark":{"type":"rule","color":"#333333","strokeWidth":1},"encoding":{"y":{"datum":-9,"type":"quantitative","scale":{"domain":[0,1],"range":[0,1],"nice":false,"zero":false},"axis":null},"y2":{"datum":-6}}}]},
{"width":134,"height":1,"view":{"stroke":null},"data":{"name":"genes"},"encoding":{"x":{"field":"g","type":"nominal","scale":{"domain":["ARNTL","NPAS2","CLOCK","CRY1","CRY2","NR1D1","NR1D2","PER1","PER2","PER3","DBP","TEF"],"padding":0},"axis":null}},"layer":[
{"mark":{"type":"text","angle":270,"align":"right","baseline":"middle","fontSize":9,"color":"#333333"},"encoding":{"y":{"datum":-4,"type":"quantitative","scale":{"domain":[0,1],"range":[0,1],"nice":false,"zero":false},"axis":null},"text":{"field":"g"}}},
{"mark":{"type":"rule","color":"#333333","strokeWidth":1},"encoding":{"y":{"datum":-9,"type":"quantitative","scale":{"domain":[0,1],"range":[0,1],"nice":false,"zero":false},"axis":null},"y2":{"datum":-6}}}]},
{"width":17,"height":1,"view":{"stroke":null},"data":{"values":[{"z":0}]},"mark":{"type":"point","opacity":0},"encoding":{}}
],"columns":6,"spacing":9,"bounds":"flush","resolve":{"scale":{"fill":"independent"}}}
]},
{"hconcat":[
{"width":314,"height":268,
"title":{"text":"C","anchor":"start","frame":"group","fontSize":18,"fontWeight":"bold","offset":-15,"dx":-37,"color":"#000000"},
"data":{"name":"ccd"},
"mark":{"type":"point","filled":true,"stroke":"#1A1A1A","strokeWidth":0.6,"size":55,"opacity":1},
"encoding":{
"x":{"field":"g","type":"nominal","scale":{"type":"point","domain":["Human|in vivo","TCGA|non−tumor","TCGA|tumor","GEO|non−tumor","GEO|tumor"],"padding":0.6},"axis":{"title":"Dataset group and condition","labelExpr":"split(datum.value,'|')","labelAngle":0,"grid":true,"labelLineHeight":14,"labelPadding":4,"titlePadding":5}},
"xOffset":{"field":"j","type":"quantitative","scale":{"domain":[-1,1],"range":[-60.3,60.3]}},
"y":{"field":"v","type":"quantitative","scale":{"domain":[2.28,5.49],"nice":false,"zero":false},"axis":{"values":[3,4,5],"title":"CCD","titlePadding":7}},
"fill":{"field":"cond","type":"nominal","scale":{"domain":["healthy","non−tumor","tumor"],"range":["#B2DF8A","#A6CEE3","#1F78B4"]},"legend":{"title":"Condition","orient":"none","legendX":326,"legendY":33,"titlePadding":7,"symbolType":"circle","symbolStrokeColor":"#1A1A1A","symbolStrokeWidth":0.6,"symbolSize":60,"symbolOffset":9,"labelOffset":7,"rowPadding":8}},
"shape":{"field":"p","type":"nominal","scale":{"domain":["P ≤ 0.001","P ≤ 0.005","P ≤ 0.05","P > 0.05"],"range":["circle","triangle-up","triangle-down","square"]},"legend":{"title":"P−value","orient":"none","legendX":326,"legendY":131,"titlePadding":7,"symbolFillColor":"white","symbolStrokeColor":"#333333","symbolStrokeWidth":0.8,"symbolSize":60,"symbolOffset":9,"labelOffset":7,"rowPadding":8}}
}},
{"width":117,"height":268,
"title":{"text":"D","anchor":"start","frame":"group","fontSize":18,"fontWeight":"bold","offset":-15,"dx":-52,"color":"#000000"},
"data":{"name":"dccd"},
"mark":{"type":"point","filled":true,"stroke":"#1A1A1A","strokeWidth":0.6,"size":60,"opacity":1},
"encoding":{
"x":{"field":"g","type":"nominal","scale":{"type":"point","domain":["TCGA","GEO"],"padding":0.6},"axis":{"title":"Dataset group","labelAngle":0,"grid":true,"labelPadding":4,"titlePadding":19}},
"xOffset":{"field":"j","type":"quantitative","scale":{"domain":[-1,1],"range":[-53.3,53.3]}},
"y":{"field":"v","type":"quantitative","scale":{"domain":[-0.1,2.1],"nice":false,"zero":false},"axis":{"values":[0,0.5,1,1.5,2],"format":".1f","title":"ΔCCD (tumor − nontumor)","titlePadding":8}},
"fill":{"field":"p","type":"nominal","scale":{"domain":["P ≤ 0.001","P ≤ 0.005","P ≤ 0.05","P > 0.05"],"range":["#CC4C02","#F58A3A","#FDB982","#FEE8D3"]},"legend":{"title":"P−value","orient":"none","legendX":131,"legendY":82,"titlePadding":8,"symbolStrokeColor":"#1A1A1A","symbolStrokeWidth":0.6,"symbolSize":60,"symbolOffset":4,"labelOffset":5,"rowPadding":8}},
"shape":{"field":"p","type":"nominal","scale":{"domain":["P ≤ 0.001","P ≤ 0.005","P ≤ 0.05","P > 0.05"],"range":["circle","triangle-up","triangle-down","square"]},"legend":{"title":"P−value","orient":"none","legendX":131,"legendY":82,"titlePadding":8,"symbolStrokeColor":"#1A1A1A","symbolStrokeWidth":0.6,"symbolSize":60,"symbolOffset":4,"labelOffset":5,"rowPadding":8}}
}}
],"spacing":170,"bounds":"flush","resolve":{"scale":{"fill":"independent","shape":"independent"}}}
],
"config":{
"font":"Liberation Sans",
"view":{"stroke":"#B3B3B3","strokeWidth":1},
"axis":{"domain":false,"labelColor":"#4D4D4D","labelFontSize":12,"titleFontSize":16,"titleFontWeight":"normal","titleColor":"#000000","tickColor":"#B3B3B3","tickSize":3.5,"labelPadding":3,"gridColor":"#E3E3E3","gridWidth":0.8},
"legend":{"titleFontSize":16,"titleFontWeight":"normal","titleColor":"#000000","labelFontSize":13,"labelColor":"#1A1A1A"},
"title":{"font":"Liberation Sans"}
}
}
